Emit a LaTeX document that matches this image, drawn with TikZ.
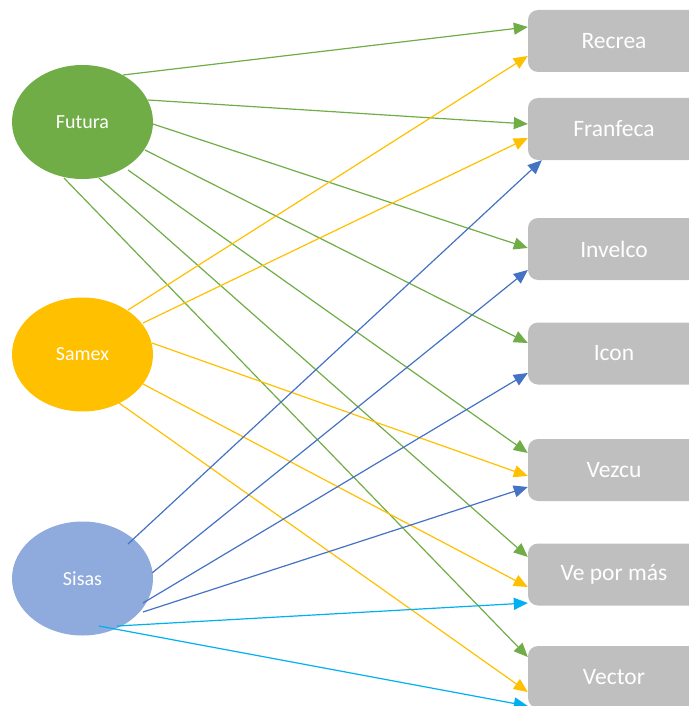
\documentclass[tikz,border=0pt]{standalone}
\usepackage{fontspec}
\setmainfont{Carlito}
\usetikzlibrary{arrows.meta,calc,shapes.geometric}
\definecolor{cgreen}{HTML}{70AD47}
\definecolor{cyellow}{HTML}{FFC000}
\definecolor{cblue}{HTML}{4472C4}
\definecolor{ccyan}{HTML}{00B0F0}
\definecolor{clblue}{HTML}{8FAADC}
\definecolor{cgray}{HTML}{BFBFBF}
\begin{document}
\begin{tikzpicture}[x=1pt,y=-1pt,
  ell/.style={ellipse,minimum width=141pt,minimum height=114pt,inner sep=0pt,text=white,font=\fontsize{20}{24}\selectfont},
  box/.style={rectangle,rounded corners=10pt,fill=cgray,minimum width=172pt,minimum height=62pt,inner sep=0pt,text=white,font=\fontsize{23.5}{28}\selectfont},
  con/.style={line width=1.2pt,-{Triangle[length=14pt,width=12pt]}},
  ga/.style={con,cgreen},
  ya/.style={con,cyellow},
  ba/.style={con,cblue},
  ca/.style={con,ccyan}]
\useasboundingbox (0,0) rectangle (688,706);
\node[ell,fill=cgreen] (fut) at (82.5,122) {Futura};
\node[ell,fill=cyellow] (sam) at (82.5,354.5) {Samex};
\node[ell,fill=clblue] (sis) at (82.5,578.5) {Sisas};
\node[box] (recrea) at (614,41) {Recrea};
\node[box] (fran) at (614,129) {Franfeca};
\node[box] (inv) at (614,249) {Invelco};
\node[box] (icon) at (614,353.5) {Icon};
\node[box] (vez) at (614,470) {Vezcu};
\node[box] (vpm) at (614,574.5) {Ve por más};
\node[box] (vec) at (614,677) {Vector};
% Futura
\draw[ga] ($(fut.center)+(40.5,-47)$) -- ($(recrea.west)+(0,-14)$);
\draw[ga] ($(fut.center)+(65.5,-22)$) -- ($(fran.west)+(0,-5)$);
\draw[ga] ($(fut.center)+(70.5,2)$) -- ($(inv.west)+(0,-1)$);
\draw[ga] ($(fut.center)+(62.5,28)$) -- ($(icon.west)+(0,-10.5)$);
\draw[ga] ($(fut.center)+(45.5,48)$) -- ($(vez.west)+(0,-17)$);
\draw[ga] ($(fut.center)+(16.5,56)$) -- ($(vpm.west)+(0,-17.5)$);
\draw[ga] ($(fut.center)+(-18.5,56)$) -- ($(vec.west)+(0,-20)$);
% Samex
\draw[ya] ($(sam.center)+(45.5,-44.5)$) -- ($(recrea.west)+(0,15)$);
\draw[ya] ($(sam.center)+(60.5,-31.5)$) -- ($(fran.west)+(0,9)$);
\draw[ya] ($(sam.center)+(69.5,-11.5)$) -- ($(vez.west)+(0,6)$);
\draw[ya] ($(sam.center)+(60.5,29.5)$) -- ($(vpm.west)+(0,12.5)$);
\draw[ya] ($(sam.center)+(36.5,48.5)$) -- ($(vec.west)+(0,15)$);
% Sisas
\draw[ba] ($(sis.center)+(45.5,-34.5)$) -- ($(fran.south west)+(14,0)$);
\draw[ba] ($(sis.center)+(69.5,-5.5)$) -- ($(inv.west)+(0,21)$);
\draw[ba] ($(sis.center)+(60.5,24.5)$) -- ($(icon.west)+(0,19.5)$);
\draw[ba] ($(sis.center)+(60.5,33.5)$) -- ($(vez.west)+(0,17)$);
\draw[ca] ($(sis.center)+(34.5,47.5)$) -- ($(vpm.west)+(0,28.5)$);
\draw[ca] ($(sis.center)+(16.5,47.5)$) -- ($(vec.west)+(0,29)$);
\end{tikzpicture}
\end{document}
